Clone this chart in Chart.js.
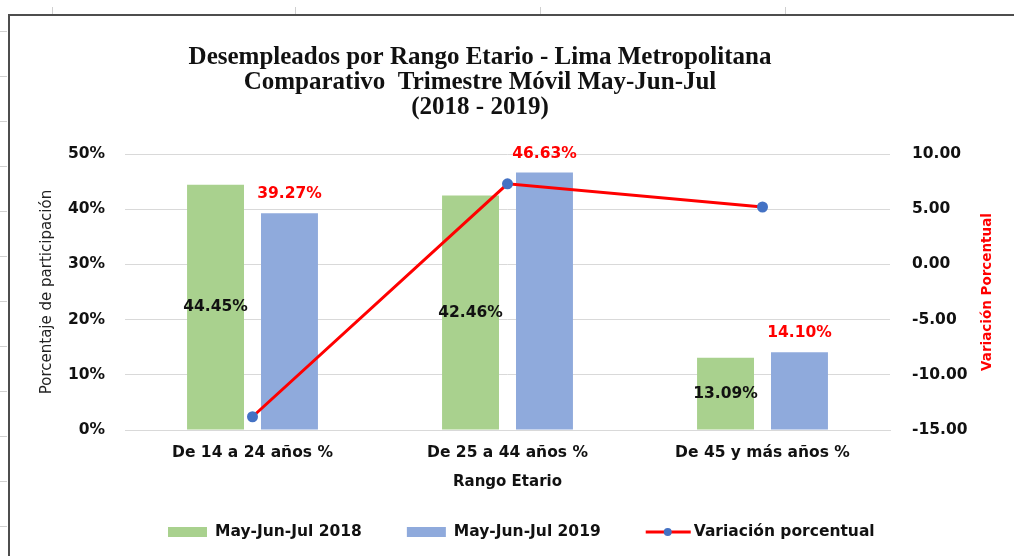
<!DOCTYPE html>
<html>
<head>
<meta charset="utf-8">
<script src="https://cdn.jsdelivr.net/npm/chart.js@4.4.0/dist/chart.umd.min.js"></script>
<style>
  html, body { margin: 0; padding: 0; background: #fff; }
  canvas { display: block; }
</style>
</head>
<body>
<canvas id="chart" width="1014" height="556"></canvas>
<script>
const categories = ['De 14 a 24 años %', 'De 25 a 44 años %', 'De 45 y más años %'];
const values2018 = [44.45, 42.46, 13.09];
const values2019 = [39.27, 46.63, 14.10];
const variation = [-13.8, 7.3, 5.2];
const leftTicks = [0, 10, 20, 30, 40, 50];
const rightTicks = [-15, -10, -5, 0, 5, 10];
const titleLines = [
  'Desempleados por Rango Etario - Lima Metropolitana',
  'Comparativo  Trimestre Móvil May-Jun-Jul',
  '(2018 - 2019)'
];
const rightTitle = 'Variación Porcentual';

const SANS = "'DejaVu Sans', sans-serif";

// frame, spreadsheet ticks, title
const framePlugin = {
  id: 'frame',
  beforeDraw(chart) {
    const ctx = chart.ctx;
    ctx.save();
    ctx.fillStyle = '#fff';
    ctx.fillRect(0, 0, chart.width, chart.height);
    ctx.strokeStyle = '#d0d0d0';
    ctx.lineWidth = 1;
    [52, 295, 540, 785].forEach(x => {
      ctx.beginPath(); ctx.moveTo(x + 0.5, 7); ctx.lineTo(x + 0.5, 15); ctx.stroke();
    });
    for (let y = 31; y < chart.height; y += 45) {
      ctx.beginPath(); ctx.moveTo(0, y + 0.5); ctx.lineTo(7, y + 0.5); ctx.stroke();
    }
    ctx.strokeStyle = '#4d4d4d';
    ctx.lineWidth = 2;
    ctx.beginPath();
    ctx.moveTo(9, chart.height);
    ctx.lineTo(9, 15);
    ctx.lineTo(chart.width, 15);
    ctx.stroke();

    ctx.fillStyle = '#111';
    ctx.font = "bold 25px 'Liberation Serif', serif";
    ctx.textAlign = 'center';
    ctx.textBaseline = 'middle';
    titleLines.forEach((t, i) => ctx.fillText(t, 480, 58 + i * 25));
    ctx.restore();
  }
};

// value labels on the bars + right axis title (reads bottom to top)
const labelPlugin = {
  id: 'barLabels',
  afterDatasetsDraw(chart) {
    const ctx = chart.ctx;
    ctx.save();
    ctx.font = 'bold 15.5px ' + SANS;
    ctx.textAlign = 'center';
    ctx.textBaseline = 'middle';
    chart.getDatasetMeta(1).data.forEach((bar, i) => {
      ctx.fillStyle = '#111';
      ctx.fillText(values2018[i].toFixed(2) + '%', bar.x, (bar.y + bar.base) / 2);
    });
    chart.getDatasetMeta(2).data.forEach((bar, i) => {
      ctx.fillStyle = '#ff0000';
      ctx.fillText(values2019[i].toFixed(2) + '%', bar.x, bar.y - 19);
    });

    const s = chart.scales.y1;
    ctx.translate(s.right - 27, (s.top + s.bottom) / 2);
    ctx.rotate(-Math.PI / 2);
    ctx.font = 'bold 13.5px ' + SANS;
    ctx.fillStyle = '#ff0000';
    ctx.fillText(rightTitle, 0, 0);
    ctx.restore();
  }
};

// legend at the bottom
const legendPlugin = {
  id: 'bottomLegend',
  afterDraw(chart) {
    const ctx = chart.ctx;
    const ds = chart.data.datasets;
    const items = [ds[1], ds[2], ds[0]];
    ctx.save();
    ctx.font = 'bold 15.5px ' + SANS;
    ctx.textBaseline = 'middle';
    ctx.textAlign = 'left';
    let x = 168;
    const y = 532;
    items.forEach(d => {
      if (d.type === 'line') {
        ctx.strokeStyle = d.borderColor;
        ctx.lineWidth = 3;
        ctx.beginPath(); ctx.moveTo(x, y); ctx.lineTo(x + 45, y); ctx.stroke();
        ctx.fillStyle = d.pointBackgroundColor;
        ctx.beginPath(); ctx.arc(x + 22, y, 4, 0, Math.PI * 2); ctx.fill();
        x += 48;
      } else {
        ctx.fillStyle = d.backgroundColor;
        ctx.fillRect(x, y - 5, 39, 10);
        x += 47;
      }
      ctx.fillStyle = '#111';
      ctx.fillText(d.label, x, y);
      x += ctx.measureText(d.label).width + 45;
    });
    ctx.restore();
  }
};

new Chart(document.getElementById('chart'), {
  data: {
    labels: categories,
    datasets: [
      {
        type: 'line',
        label: 'Variación porcentual',
        data: variation,
        yAxisID: 'y1',
        borderColor: '#ff0000',
        borderWidth: 3,
        pointBackgroundColor: '#4472c4',
        pointBorderColor: '#4472c4',
        pointRadius: 4,
        tension: 0,
        order: 0
      },
      {
        type: 'bar',
        label: 'May-Jun-Jul 2018',
        data: values2018,
        yAxisID: 'y',
        backgroundColor: '#a9d18e',
        categoryPercentage: 0.58,
        barPercentage: 0.77,
        order: 1
      },
      {
        type: 'bar',
        label: 'May-Jun-Jul 2019',
        data: values2019,
        yAxisID: 'y',
        backgroundColor: '#8faadc',
        categoryPercentage: 0.58,
        barPercentage: 0.77,
        order: 1
      }
    ]
  },
  options: {
    responsive: false,
    animation: false,
    devicePixelRatio: 1,
    layout: { padding: { left: 10, right: 0, top: 154, bottom: 60 } },
    plugins: {
      legend: { display: false },
      title: { display: false },
      tooltip: { enabled: false }
    },
    scales: {
      x: {
        grid: { display: false, drawTicks: false },
        border: { display: true, color: '#d9d9d9', width: 1 },
        ticks: { color: '#111', font: { family: SANS, size: 15.5, weight: 'bold' }, padding: 14 },
        title: { display: true, text: 'Rango Etario', color: '#111', padding: 5,
                 font: { family: SANS, size: 15, weight: 'bold' } },
        afterFit: s => { s.height = 66; }
      },
      y: {
        position: 'left',
        min: 0, max: 50,
        afterBuildTicks: s => { s.ticks = leftTicks.map(v => ({ value: v })); },
        grid: { color: '#d9d9d9', drawTicks: false },
        border: { display: false },
        ticks: { color: '#111', font: { family: SANS, size: 15.5, weight: 'bold' }, padding: 20,
                 callback: v => v + '%' },
        title: { display: true, text: 'Porcentaje de participación', color: '#222', padding: 28,
                 font: { family: SANS, size: 15 } },
        afterFit: s => { s.width = 115; }
      },
      y1: {
        position: 'right',
        min: -15, max: 10,
        afterBuildTicks: s => { s.ticks = rightTicks.map(v => ({ value: v })); },
        grid: { display: false, drawTicks: false },
        border: { display: false },
        ticks: { color: '#111', font: { family: SANS, size: 15.5, weight: 'bold' }, padding: 22,
                 callback: v => v.toFixed(2) },
        title: { display: false },
        afterFit: s => { s.width = 124; }
      }
    }
  },
  plugins: [framePlugin, labelPlugin, legendPlugin]
});
</script>
</body>
</html>
